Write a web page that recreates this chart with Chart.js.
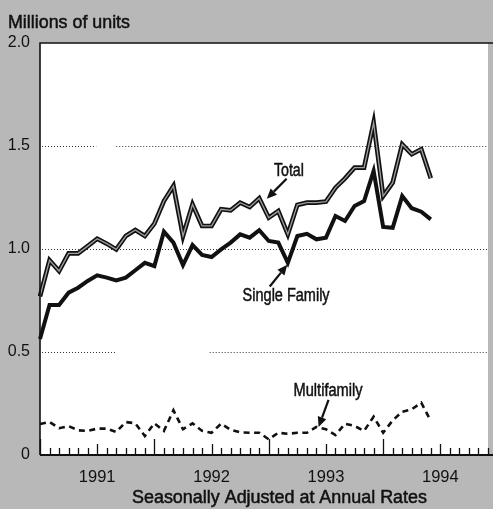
<!DOCTYPE html>
<html><head><meta charset="utf-8">
<script src="https://cdn.jsdelivr.net/npm/chart.js@4/dist/chart.umd.min.js"></script>
<style>
html,body{margin:0;padding:0;background:#b8b8b8;overflow:hidden;}
#wrap{width:493px;height:509px;position:relative;}
</style></head><body>
<div id="wrap"><canvas id="c" width="493" height="509"></canvas></div>
<script>
// ---- data ----
const years = ['1991','1992','1993','1994'];
const monthNames = ['Jan','Feb','Mar','Apr','May','Jun','Jul','Aug','Sep','Oct','Nov','Dec'];
const months = years.flatMap(y => monthNames.map(m => m + ' ' + y)); // Jan 1991 .. Dec 1994

// Millions of units, seasonally adjusted annual rates, Jan 1991 - Jun 1994
const total = [0.77,0.945,0.893,0.979,0.979,1.014,1.05,1.026,0.998,1.063,1.092,1.063,
  1.123,1.233,1.306,1.063,1.217,1.112,1.112,1.193,1.188,1.225,1.204,1.246,
  1.152,1.184,1.071,1.214,1.225,1.225,1.23,1.298,1.343,1.395,1.395,1.613,
  1.257,1.322,1.508,1.46,1.484,1.343];
const singleFamily = [0.563,0.728,0.728,0.788,0.812,0.845,0.872,0.861,0.848,0.861,0.897,0.933,
  0.917,1.084,1.031,0.922,1.019,0.971,0.961,0.998,1.031,1.071,1.055,1.091,
  1.039,1.031,0.933,1.063,1.074,1.047,1.055,1.16,1.136,1.209,1.233,1.379,
  1.107,1.103,1.257,1.198,1.181,1.144];
const multifamily = [0.15,0.16,0.13,0.14,0.12,0.117,0.128,0.128,0.112,0.16,0.154,0.092,
  0.154,0.117,0.217,0.125,0.154,0.117,0.108,0.152,0.122,0.11,0.108,0.108,
  0.076,0.108,0.103,0.108,0.108,0.136,0.125,0.097,0.152,0.141,0.117,0.186,
  0.108,0.168,0.21,0.222,0.254,0.165];
const yTicks = [0, 0.5, 1.0, 1.5, 2.0];
const gridValues = [0.5, 1.0, 1.5];

// ---- styles / annotation placement (data coordinates) ----
const FONT = "'Liberation Sans', Arial, Helvetica, sans-serif";
const STYLE = {
  bg: '#b8b8b8',
  ink: '#111',
  gridGaps: { 1.5: [[5.9, 8.0]], 0.5: [[7.9, 17.8]] }
};
const labels = [
  { text: 'Total', x: 26.11, y: 1.354, size: 18, width: 30 },
  { text: 'Single Family', x: 25.82, y: 0.746, size: 18, width: 87 },
  { text: 'Multifamily', x: 30.22, y: 0.287, size: 18, width: 69 }
];
const arrows = [
  { from: [25.87, 1.341], to: [23.79, 1.244] },
  { from: [24.1, 0.818], to: [25.94, 0.923] },
  { from: [30.27, 0.268], to: [29.23, 0.136] }
];

function fitText(ctx, text, x, y, size, width, align) {
  ctx.save();
  ctx.font = size + 'px ' + FONT;
  const w = ctx.measureText(text).width;
  const s = width / w;
  ctx.translate(x, y);
  ctx.scale(s, 1);
  ctx.textAlign = align || 'center';
  ctx.textBaseline = 'alphabetic';
  ctx.fillStyle = STYLE.ink;
  ctx.strokeStyle = STYLE.ink;
  ctx.lineWidth = 0.5;
  ctx.fillText(text, 0, 0);
  ctx.strokeText(text, 0, 0);
  ctx.restore();
}

const decor = {
  id: 'decor',
  beforeDraw(chart) {
    const { ctx, chartArea: a, width, height } = chart;
    const xs = chart.scales.x, ys = chart.scales.y;
    ctx.save();
    ctx.fillStyle = STYLE.bg; ctx.fillRect(0, 0, width, height);
    ctx.fillStyle = '#fff'; ctx.fillRect(a.left, a.top, a.right - a.left, a.bottom - a.top);
    ctx.strokeStyle = '#333'; ctx.lineWidth = 1; ctx.setLineDash([1, 2]);
    gridValues.forEach(v => {
      const y = Math.round(ys.getPixelForValue(v)) + 0.5;
      let segs = [[a.left + 2, a.right]];
      (STYLE.gridGaps[v] || []).forEach(([g0, g1]) => {
        const p0 = xs.getPixelForValue(g0), p1 = xs.getPixelForValue(g1);
        segs = segs.flatMap(([s, e]) => {
          const out = [];
          if (p0 > s) out.push([s, Math.min(e, p0)]);
          if (p1 < e) out.push([Math.max(s, p1), e]);
          return out;
        });
      });
      segs.forEach(([s, e]) => { ctx.beginPath(); ctx.moveTo(s, y); ctx.lineTo(e, y); ctx.stroke(); });
    });
    ctx.restore();
  },
  afterDatasetsDraw(chart) {
    const { ctx, chartArea: a } = chart;
    const xs = chart.scales.x, ys = chart.scales.y;
    ctx.save();
    ctx.strokeStyle = STYLE.ink; ctx.setLineDash([]);
    // frame
    ctx.lineWidth = 1.6;
    ctx.beginPath(); ctx.moveTo(a.left, a.bottom); ctx.lineTo(a.left, a.top); ctx.lineTo(a.right + 5, a.top); ctx.stroke();
    ctx.lineWidth = 2;
    ctx.beginPath(); ctx.moveTo(a.left, a.bottom); ctx.lineTo(a.right + 5, a.bottom); ctx.stroke();
    // monthly ticks inside plot
    ctx.lineWidth = 1.3;
    months.forEach((m, i) => {
      const x = Math.round(xs.getPixelForValue(i)) + 0.5;
      const len = i % 12 === 0 ? 16 : (i % 12 === 6 ? 11 : 7);
      ctx.beginPath(); ctx.moveTo(x, a.bottom); ctx.lineTo(x, a.bottom - len); ctx.stroke();
    });
    // arrows
    arrows.forEach(ar => {
      const x0 = xs.getPixelForValue(ar.from[0]), y0 = ys.getPixelForValue(ar.from[1]);
      const x1 = xs.getPixelForValue(ar.to[0]), y1 = ys.getPixelForValue(ar.to[1]);
      const ang = Math.atan2(y1 - y0, x1 - x0);
      const hl = 10, hw = 4.5;
      const bx = x1 - hl * Math.cos(ang), by = y1 - hl * Math.sin(ang);
      ctx.lineWidth = 2.2;
      ctx.beginPath(); ctx.moveTo(x0, y0); ctx.lineTo(bx, by); ctx.stroke();
      ctx.fillStyle = STYLE.ink;
      ctx.beginPath();
      ctx.moveTo(x1, y1);
      ctx.lineTo(bx + hw * Math.sin(ang), by - hw * Math.cos(ang));
      ctx.lineTo(bx - hw * Math.sin(ang), by + hw * Math.cos(ang));
      ctx.closePath(); ctx.fill();
    });
    // series labels
    labels.forEach(l => fitText(ctx, l.text, xs.getPixelForValue(l.x), ys.getPixelForValue(l.y), l.size, l.width));
    // titles
    fitText(ctx, 'Millions of units', 8, 28, 18, 122, 'left');
    fitText(ctx, 'Seasonally Adjusted at Annual Rates', 279.5, 503, 17.5, 295, 'center');
    ctx.restore();
  }
};

new Chart(document.getElementById('c'), {
  type: 'line',
  data: {
    labels: months,
    datasets: [
      { label: 'Total core', data: total, borderColor: '#a0a0a0', borderWidth: 1.3, pointRadius: 0, tension: 0, order: 0, borderJoinStyle: 'miter' },
      { label: 'Total', data: total, borderColor: '#111', borderWidth: 4.6, pointRadius: 0, tension: 0, order: 1, borderJoinStyle: 'miter' },
      { label: 'Single Family', data: singleFamily, borderColor: '#111', borderWidth: 4, pointRadius: 0, tension: 0, order: 2, borderJoinStyle: 'miter' },
      { label: 'Multifamily', data: multifamily, borderColor: '#111', borderWidth: 2.6, borderDash: [6, 4.5], pointRadius: 0, tension: 0, order: 3 }
    ]
  },
  options: {
    responsive: false,
    animation: false,
    devicePixelRatio: 1,
    layout: { padding: { top: 43, left: 0, right: 0, bottom: 0 } },
    plugins: { legend: { display: false }, tooltip: { enabled: false }, title: { display: false } },
    scales: {
      x: {
        type: 'category', offset: false,
        grid: { display: false }, border: { display: false },
        ticks: {
          autoSkip: false, maxRotation: 0, minRotation: 0, padding: 5,
          color: '#111', font: { family: FONT, size: 16.5 },
          callback: (v, i) => (i % 12 === 6 ? years[Math.floor(i / 12)] : '')
        },
        afterFit: s => { s.height = 54; }
      },
      y: {
        min: 0, max: 2,
        afterBuildTicks: s => { s.ticks = yTicks.map(v => ({ value: v })); },
        grid: { display: false }, border: { display: false },
        ticks: {
          padding: 2, color: '#111', font: { family: FONT, size: 16 },
          callback: v => (v === 0 ? '0' : v.toFixed(1))
        },
        afterFit: s => { s.width = 40; }
      }
    }
  },
  plugins: [decor]
});
</script>
</body></html>
